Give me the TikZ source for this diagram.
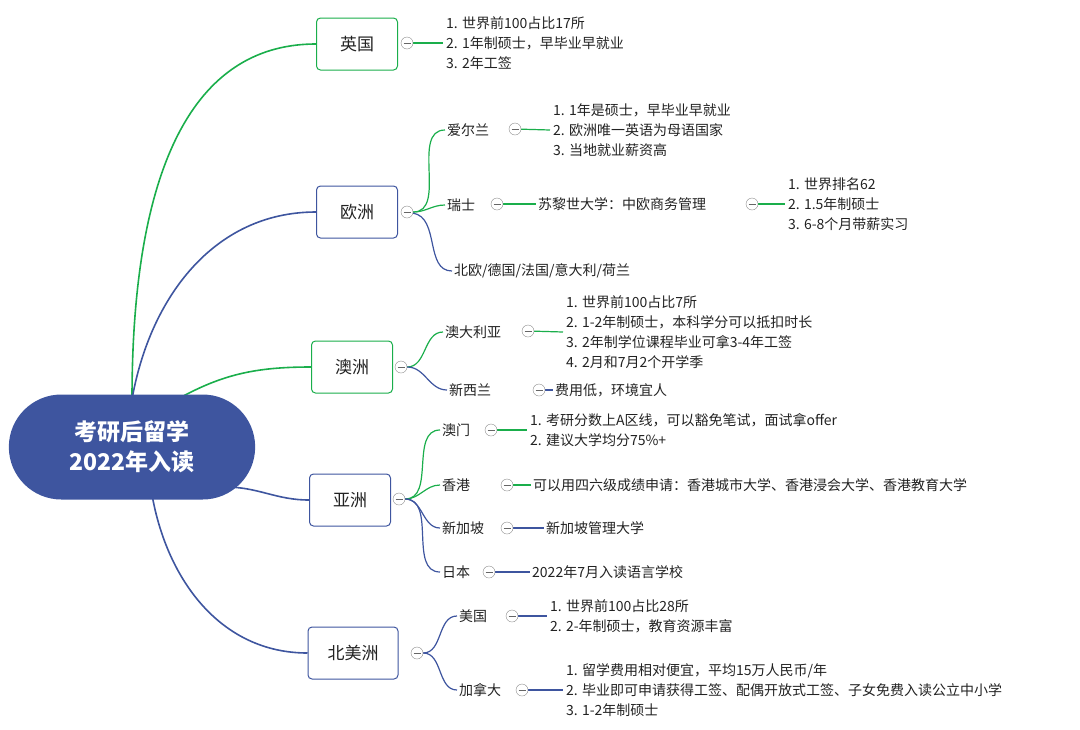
\documentclass[tikz,border=0pt]{standalone}
\usepackage{fontspec}
\setmainfont{Noto Sans CJK SC}
\usetikzlibrary{shapes.misc,backgrounds}
\definecolor{mapGreen}{HTML}{1AAE4B}
\definecolor{mapBlue}{HTML}{3E559F}
\definecolor{mapText}{HTML}{222222}

\tikzstyle{root}=[rounded rectangle,fill=mapBlue,text=white,minimum width=253pt,minimum height=105pt,align=center,font=\fontsize{23}{30}\selectfont\bfseries]
\tikzstyle{branch}=[rectangle,rounded corners=4pt,fill=white,line width=1pt,minimum width=81pt,minimum height=52pt,text=mapText,font=\fontsize{17}{20}\selectfont]
\tikzstyle{sub}=[anchor=west,inner sep=2pt,text=mapText,font=\fontsize{14}{20}\selectfont]
\tikzstyle{leaf}=[anchor=west,inner sep=3pt,align=left,text=mapText,font=\fontsize{14}{20}\selectfont]
\tikzstyle{fold}=[circle,draw=black!45,fill=white,minimum size=12pt,inner sep=0pt,
  path picture={\draw[black!60] ([xshift=2.5pt]path picture bounding box.west) -- ([xshift=-2.5pt]path picture bounding box.east);}]
\tikzstyle{gEdge}=[mapGreen,line width=1.6pt]
\tikzstyle{bEdge}=[mapBlue,line width=1.6pt]
\tikzstyle{gLine}=[mapGreen,line width=1.2pt]
\tikzstyle{bLine}=[mapBlue,line width=1.2pt]

\begin{document}
\begin{tikzpicture}[x=1pt,y=-1pt]
	\useasboundingbox (0,0) rectangle (1080,729);

	% Hauptknoten und Zweige
	\node(root) at (132,447) [root] {考研后留学\\2022年入读};
	\node(uk) at (357,44) [branch, draw=mapGreen] {英国};
	\node(eu) at (357,212) [branch, draw=mapBlue] {欧洲};
	\node(oc) at (352,367) [branch, draw=mapGreen] {澳洲};
	\node(as) at (350,500) [branch, draw=mapBlue] {亚洲};
	\node(na) at (353,653) [branch, draw=mapBlue, minimum width=90pt] {北美洲};

	\node(ukF) at (407,43) [fold] {};
	\node(euF) at (407,212) [fold] {};
	\node(ocF) at (401,367) [fold] {};
	\node(asF) at (399,499) [fold] {};
	\node(naF) at (417,653) [fold] {};

	% Englang
	\node(ukL) at (443,43) [leaf] {1. 世界前100占比17所\\2. 1年制硕士，早毕业早就业\\3. 2年工签};

	% Europa
	\node(ie) at (445,130) [sub] {爱尔兰};
	\node(ch) at (445,205) [sub] {瑞士};
	\node(nord) at (452,271) [sub] {北欧/德国/法国/意大利/荷兰};
	\node(ieF) at (515,129) [fold] {};
	\node(ieL) at (550,130) [leaf] {1. 1年是硕士，早毕业早就业\\2. 欧洲唯一英语为母语国家\\3. 当地就业薪资高};
	\node(chF) at (497,204) [fold] {};
	\node(zh) at (536,204) [sub] {苏黎世大学：中欧商务管理};
	\node(zhF) at (752,204) [fold] {};
	\node(zhL) at (785,204) [leaf] {1. 世界排名62\\2. 1.5年制硕士\\3. 6-8个月带薪实习};

	% Ozeanien
	\node(au) at (443,332) [sub] {澳大利亚};
	\node(nz) at (447,390) [sub] {新西兰};
	\node(auF) at (528,331) [fold] {};
	\node(auL) at (563,332) [leaf] {1. 世界前100占比7所\\2. 1-2年制硕士，本科学分可以抵扣时长\\3. 2年制学位课程毕业可拿3-4年工签\\4. 2月和7月2个开学季};
	\node(nzF) at (539,390) [fold] {};
	\node(nzL) at (553,390) [sub] {费用低，环境宜人};

	% Asien
	\node(mo) at (440,430) [sub] {澳门};
	\node(hk) at (440,485) [sub] {香港};
	\node(sg) at (440,528) [sub] {新加坡};
	\node(jp) at (440,572) [sub] {日本};
	\node(moF) at (491,430) [fold] {};
	\node(moL) at (527,430) [leaf] {1. 考研分数上A区线，可以豁免笔试，面试拿offer\\2. 建议大学均分75\%+};
	\node(hkF) at (507,485) [fold] {};
	\node(hkL) at (531,485) [sub] {可以用四六级成绩申请：香港城市大学、香港浸会大学、香港教育大学};
	\node(sgF) at (507,528) [fold] {};
	\node(sgL) at (544,528) [sub] {新加坡管理大学};
	\node(jpF) at (489,572) [fold] {};
	\node(jpL) at (530,572) [sub] {2022年7月入读语言学校};

	% Nordamerika
	\node(us) at (457,616) [sub] {美国};
	\node(ca) at (457,690) [sub] {加拿大};
	\node(usF) at (512,616) [fold] {};
	\node(usL) at (547,616) [leaf] {1. 世界前100占比28所\\2. 2-年制硕士，教育资源丰富};
	\node(caF) at (522,690) [fold] {};
	\node(caL) at (563,690) [leaf] {1. 留学费用相对便宜，平均15万人民币/年\\2. 毕业即可申请获得工签、配偶开放式工签、子女免费入读公立中小学\\3. 1-2年制硕士};

	\begin{scope}[on background layer]
		\draw[gEdge] (root.north) ++(0,5) to[out=90,in=180] (uk.west);
		\draw[bEdge] (root.north) ++(0,5) to[out=80,in=180] (eu.west);
		\draw[gEdge] (root.north) ++(40,8) to[out=30,in=180] (oc.west);
		\draw[bEdge] (root.east) ++(-30,40) to[out=0,in=180] (as.west);
		\draw[bEdge] (root.south) ++(20,-5) to[out=-80,in=180] (na.west);

		\draw[gLine] (ukF) -- (ukL.west);
		\draw[gLine] (euF) to[out=0,in=180] (ie.west);
		\draw[gLine] (euF) to[out=0,in=180] (ch.west);
		\draw[bLine] (euF) to[out=-10,in=180] (nord.west);
		\draw[gLine] (ieF) -- (ieL.west);
		\draw[gLine] (chF) -- (zh.west);
		\draw[gLine] (zhF) -- (zhL.west);

		\draw[gLine] (ocF) to[out=0,in=180] (au.west);
		\draw[bLine] (ocF) to[out=0,in=180] (nz.west);
		\draw[gLine] (auF) -- (auL.west);
		\draw[bLine] (nzF) -- (nzL.west);

		\draw[gLine] (asF) to[out=0,in=180] (mo.west);
		\draw[gLine] (asF) to[out=0,in=180] (hk.west);
		\draw[bLine] (asF) to[out=0,in=180] (sg.west);
		\draw[bLine] (asF) to[out=0,in=180] (jp.west);
		\draw[gLine] (moF) -- (moL.west);
		\draw[gLine] (hkF) -- (hkL.west);
		\draw[bLine] (sgF) -- (sgL.west);
		\draw[bLine] (jpF) -- (jpL.west);

		\draw[bLine] (naF) to[out=0,in=180] (us.west);
		\draw[bLine] (naF) to[out=0,in=180] (ca.west);
		\draw[bLine] (usF) -- (usL.west);
		\draw[bLine] (caF) -- (caL.west);
	\end{scope}

\end{tikzpicture}
\end{document}
